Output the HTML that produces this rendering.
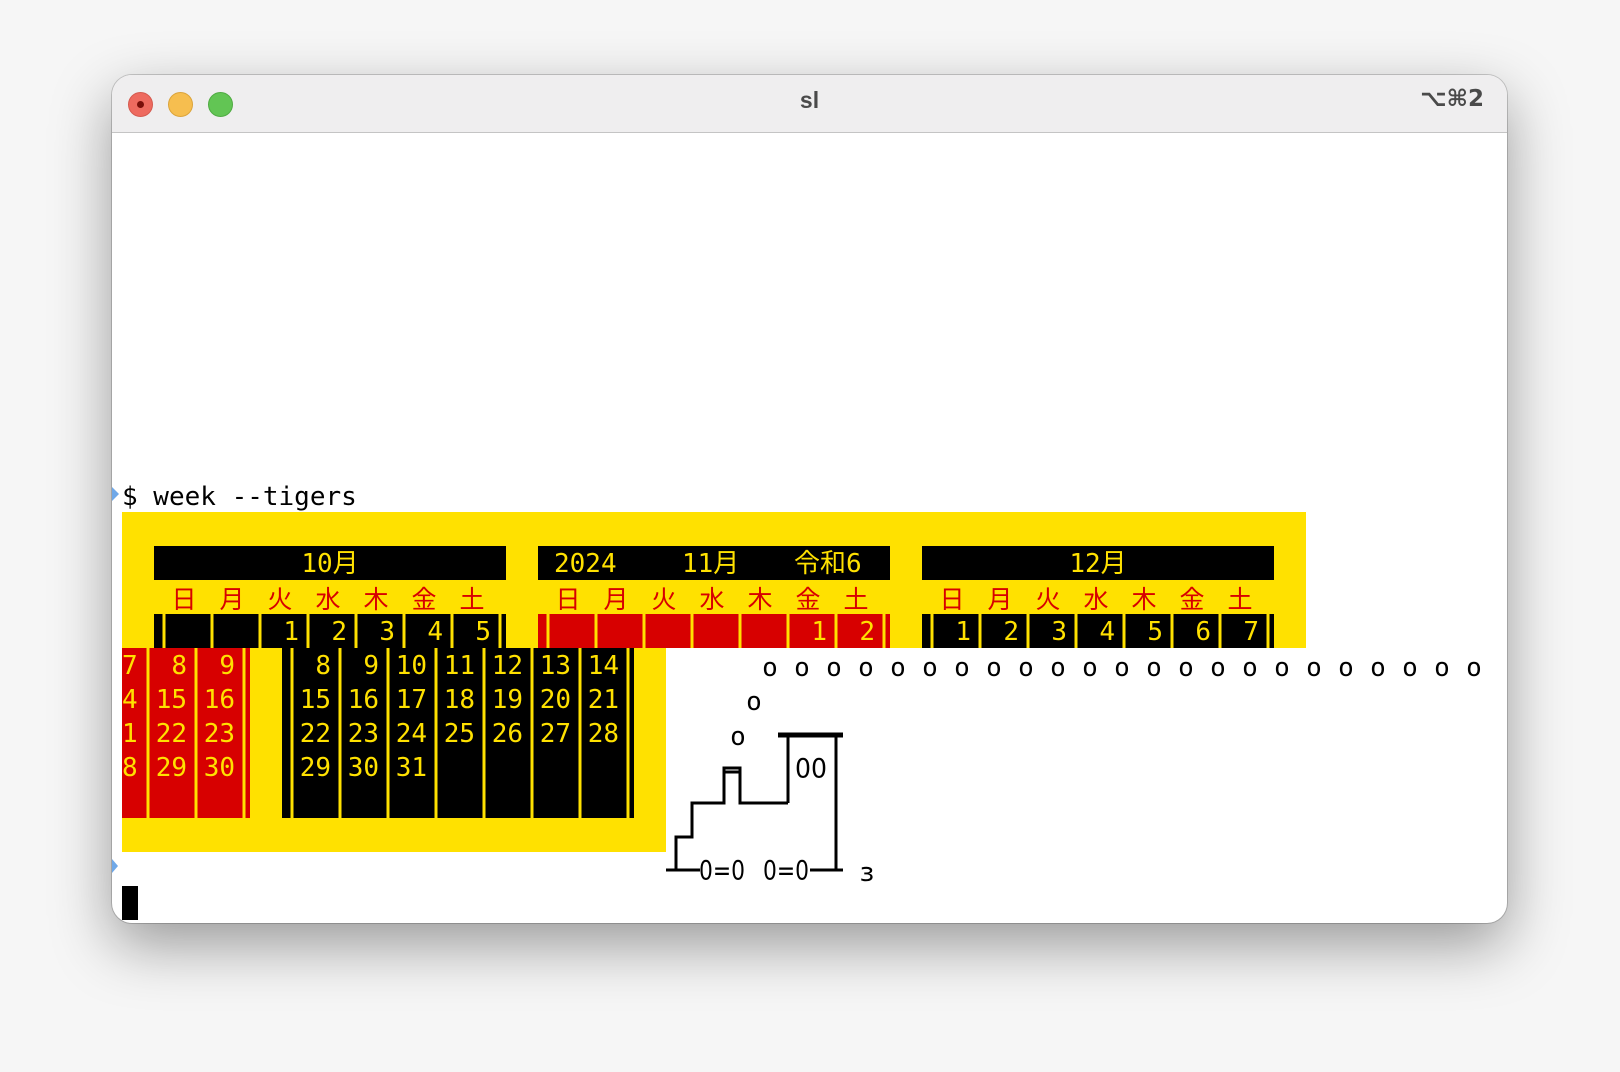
<!DOCTYPE html>
<html><head><meta charset="utf-8"><style>
html,body{margin:0;padding:0;width:1620px;height:1072px;background:#f6f6f6;overflow:hidden;}
.win{position:absolute;left:112px;top:75px;width:1395px;height:848px;border-radius:20px;background:#fff;box-shadow:0 22px 60px rgba(0,0,0,0.38),0 0 0 1px rgba(0,0,0,0.18);overflow:hidden;}
.tb{position:absolute;left:0;top:0;width:100%;height:57px;background:#efeeef;border-bottom:1px solid #c4c4c4;}
.dot{position:absolute;top:17px;width:23px;height:23px;border-radius:50%;}
svg{position:absolute;left:0;top:0;}
</style></head><body>
<div class="win">
 <div class="tb">
  <div class="dot" style="left:16px;background:#ee6a5f;border:1px solid #d55a4f"></div>
  <div style="position:absolute;left:25px;top:26px;width:7px;height:7px;border-radius:50%;background:#7a0f0a"></div>
  <div class="dot" style="left:56px;background:#f6be4f;border:1px solid #dca43a"></div>
  <div class="dot" style="left:96px;background:#62c554;border:1px solid #4fab42"></div>
  <div style="position:absolute;left:0;width:100%;top:12px;text-align:center;font:bold 23px 'Liberation Sans',sans-serif;color:#4a4a4a">sl</div>
  <div style="position:absolute;right:23px;top:11px;font:bold 23px 'DejaVu Sans','Liberation Sans',sans-serif;color:#4a4a4a">⌥⌘2</div>
 </div>
</div>
<svg width="1620" height="1072" xmlns="http://www.w3.org/2000/svg" font-family="'DejaVu Sans Mono','Liberation Mono','Noto Sans CJK JP',monospace" font-size="26" dominant-baseline="central">
<!-- prompt -->
<polygon points="112,487 119,494 112,501" fill="#6fa8e8"/>
<text x="122" y="497" fill="#000">$ week --tigers</text>
<!-- yellow -->
<rect x="122" y="512" width="1184" height="136" fill="#ffe100"/>
<rect x="122" y="648" width="544" height="204" fill="#ffe100"/>
<!-- headers -->
<rect x="154" y="546" width="352" height="34" fill="#000"/>
<rect x="538" y="546" width="352" height="34" fill="#000"/>
<rect x="922" y="546" width="352" height="34" fill="#000"/>
<g fill="#ffe100" font-family="'DejaVu Sans Mono','Noto Sans CJK JP',monospace">
<text x="330" y="564" text-anchor="middle">10月</text>
<text x="554" y="564">2024</text>
<text x="682" y="564">11月</text>
<text x="794" y="564">令和6</text>
<text x="1098" y="564" text-anchor="middle">12月</text>
</g>
<!-- day names -->
<g fill="#d70000" font-family="'Noto Sans CJK JP',sans-serif" font-size="25" text-anchor="middle">
<text x="184" y="598">日</text><text x="232" y="598">月</text><text x="280" y="598">火</text><text x="328" y="598">水</text><text x="376" y="598">木</text><text x="424" y="598">金</text><text x="472" y="598">土</text>
<text x="568" y="598">日</text><text x="616" y="598">月</text><text x="664" y="598">火</text><text x="712" y="598">水</text><text x="760" y="598">木</text><text x="808" y="598">金</text><text x="856" y="598">土</text>
<text x="952" y="598">日</text><text x="1000" y="598">月</text><text x="1048" y="598">火</text><text x="1096" y="598">水</text><text x="1144" y="598">木</text><text x="1192" y="598">金</text><text x="1240" y="598">土</text>
</g>
<!-- number rows -->
<rect x="154" y="614" width="352" height="34" fill="#000"/>
<rect x="538" y="614" width="352" height="34" fill="#d70000"/>
<rect x="922" y="614" width="352" height="34" fill="#000"/>
<g fill="#ffe100">
<rect x="162.5" y="614" width="3" height="34"/><rect x="210.5" y="614" width="3" height="34"/><rect x="258.5" y="614" width="3" height="34"/><rect x="306.5" y="614" width="3" height="34"/><rect x="354.5" y="614" width="3" height="34"/><rect x="402.5" y="614" width="3" height="34"/><rect x="450.5" y="614" width="3" height="34"/><rect x="498.5" y="614" width="3" height="34"/>
<rect x="546.5" y="614" width="3" height="34"/><rect x="594.5" y="614" width="3" height="34"/><rect x="642.5" y="614" width="3" height="34"/><rect x="690.5" y="614" width="3" height="34"/><rect x="738.5" y="614" width="3" height="34"/><rect x="786.5" y="614" width="3" height="34"/><rect x="834.5" y="614" width="3" height="34"/><rect x="882.5" y="614" width="3" height="34"/>
<rect x="930.5" y="614" width="3" height="34"/><rect x="978.5" y="614" width="3" height="34"/><rect x="1026.5" y="614" width="3" height="34"/><rect x="1074.5" y="614" width="3" height="34"/><rect x="1122.5" y="614" width="3" height="34"/><rect x="1170.5" y="614" width="3" height="34"/><rect x="1218.5" y="614" width="3" height="34"/><rect x="1266.5" y="614" width="3" height="34"/>
</g>
<g fill="#ffe100" text-anchor="end">
<text x="299" y="632">1</text><text x="347" y="632">2</text><text x="395" y="632">3</text><text x="443" y="632">4</text><text x="491" y="632">5</text>
<text x="827" y="632">1</text><text x="875" y="632">2</text>
<text x="971" y="632">1</text><text x="1019" y="632">2</text><text x="1067" y="632">3</text><text x="1115" y="632">4</text><text x="1163" y="632">5</text><text x="1211" y="632">6</text><text x="1259" y="632">7</text>
</g>
<!-- week blocks -->
<rect x="122" y="648" width="128" height="170" fill="#d70000"/>
<rect x="282" y="648" width="352" height="170" fill="#000"/>
<g fill="#ffe100">
<rect x="146.5" y="648" width="3" height="170"/><rect x="194.5" y="648" width="3" height="170"/><rect x="242.5" y="648" width="3" height="170"/>
<rect x="290.5" y="648" width="3" height="170"/><rect x="338.5" y="648" width="3" height="170"/><rect x="386.5" y="648" width="3" height="170"/><rect x="434.5" y="648" width="3" height="170"/><rect x="482.5" y="648" width="3" height="170"/><rect x="530.5" y="648" width="3" height="170"/><rect x="578.5" y="648" width="3" height="170"/><rect x="626.5" y="648" width="3" height="170"/>
</g>
<g fill="#ffe100">
<text x="122" y="666">7</text><text x="122" y="700">4</text><text x="122" y="734">1</text><text x="122" y="768">8</text>
</g>
<g fill="#ffe100" text-anchor="end">
<text x="187" y="666">8</text><text x="235" y="666">9</text>
<text x="187" y="700">15</text><text x="235" y="700">16</text>
<text x="187" y="734">22</text><text x="235" y="734">23</text>
<text x="187" y="768">29</text><text x="235" y="768">30</text>
<text x="331" y="666">8</text><text x="379" y="666">9</text><text x="427" y="666">10</text><text x="475" y="666">11</text><text x="523" y="666">12</text><text x="571" y="666">13</text><text x="619" y="666">14</text>
<text x="331" y="700">15</text><text x="379" y="700">16</text><text x="427" y="700">17</text><text x="475" y="700">18</text><text x="523" y="700">19</text><text x="571" y="700">20</text><text x="619" y="700">21</text>
<text x="331" y="734">22</text><text x="379" y="734">23</text><text x="427" y="734">24</text><text x="475" y="734">25</text><text x="523" y="734">26</text><text x="571" y="734">27</text><text x="619" y="734">28</text>
<text x="331" y="768">29</text><text x="379" y="768">30</text><text x="427" y="768">31</text>
</g>
<!-- smoke -->
<g fill="#000" text-anchor="middle">
<text x="770" y="668">o</text><text x="802" y="668">o</text><text x="834" y="668">o</text><text x="866" y="668">o</text><text x="898" y="668">o</text><text x="930" y="668">o</text><text x="962" y="668">o</text><text x="994" y="668">o</text><text x="1026" y="668">o</text><text x="1058" y="668">o</text><text x="1090" y="668">o</text><text x="1122" y="668">o</text><text x="1154" y="668">o</text><text x="1186" y="668">o</text><text x="1218" y="668">o</text><text x="1250" y="668">o</text><text x="1282" y="668">o</text><text x="1314" y="668">o</text><text x="1346" y="668">o</text><text x="1378" y="668">o</text><text x="1410" y="668">o</text><text x="1442" y="668">o</text><text x="1474" y="668">o</text>
<text x="754" y="702">o</text><text x="738" y="737">o</text>
</g>
<!-- train -->
<g stroke="#000" stroke-width="3" fill="none">
<line x1="778" y1="735" x2="843" y2="735" stroke-width="5"/>
<line x1="788" y1="735" x2="788" y2="803"/>
<line x1="836" y1="735" x2="836" y2="870"/>
<polyline points="788,803 740,803 740,768 724,768 724,803 692,803 692,837 676,837 676,870"/>
<line x1="724" y1="772" x2="740" y2="772"/>
<line x1="666" y1="870" x2="700" y2="870"/>
<line x1="810" y1="870" x2="843" y2="870"/>
</g>
<g fill="#000" font-family="'DejaVu Sans','Liberation Sans',sans-serif" font-size="27">
<text x="699" y="871" textLength="46" lengthAdjust="spacingAndGlyphs">0=0</text>
<text x="763" y="871" textLength="46" lengthAdjust="spacingAndGlyphs">0=0</text>
<text x="795" y="769" textLength="32" lengthAdjust="spacingAndGlyphs">00</text>
</g>
<text x="867" y="873" text-anchor="middle" font-size="26" fill="#000">ɜ</text>
<!-- second prompt + cursor -->
<polygon points="112,859 118,866 112,873" fill="#6fa8e8"/>
<rect x="122" y="886" width="16" height="34" fill="#000"/>
</svg>
</body></html>
